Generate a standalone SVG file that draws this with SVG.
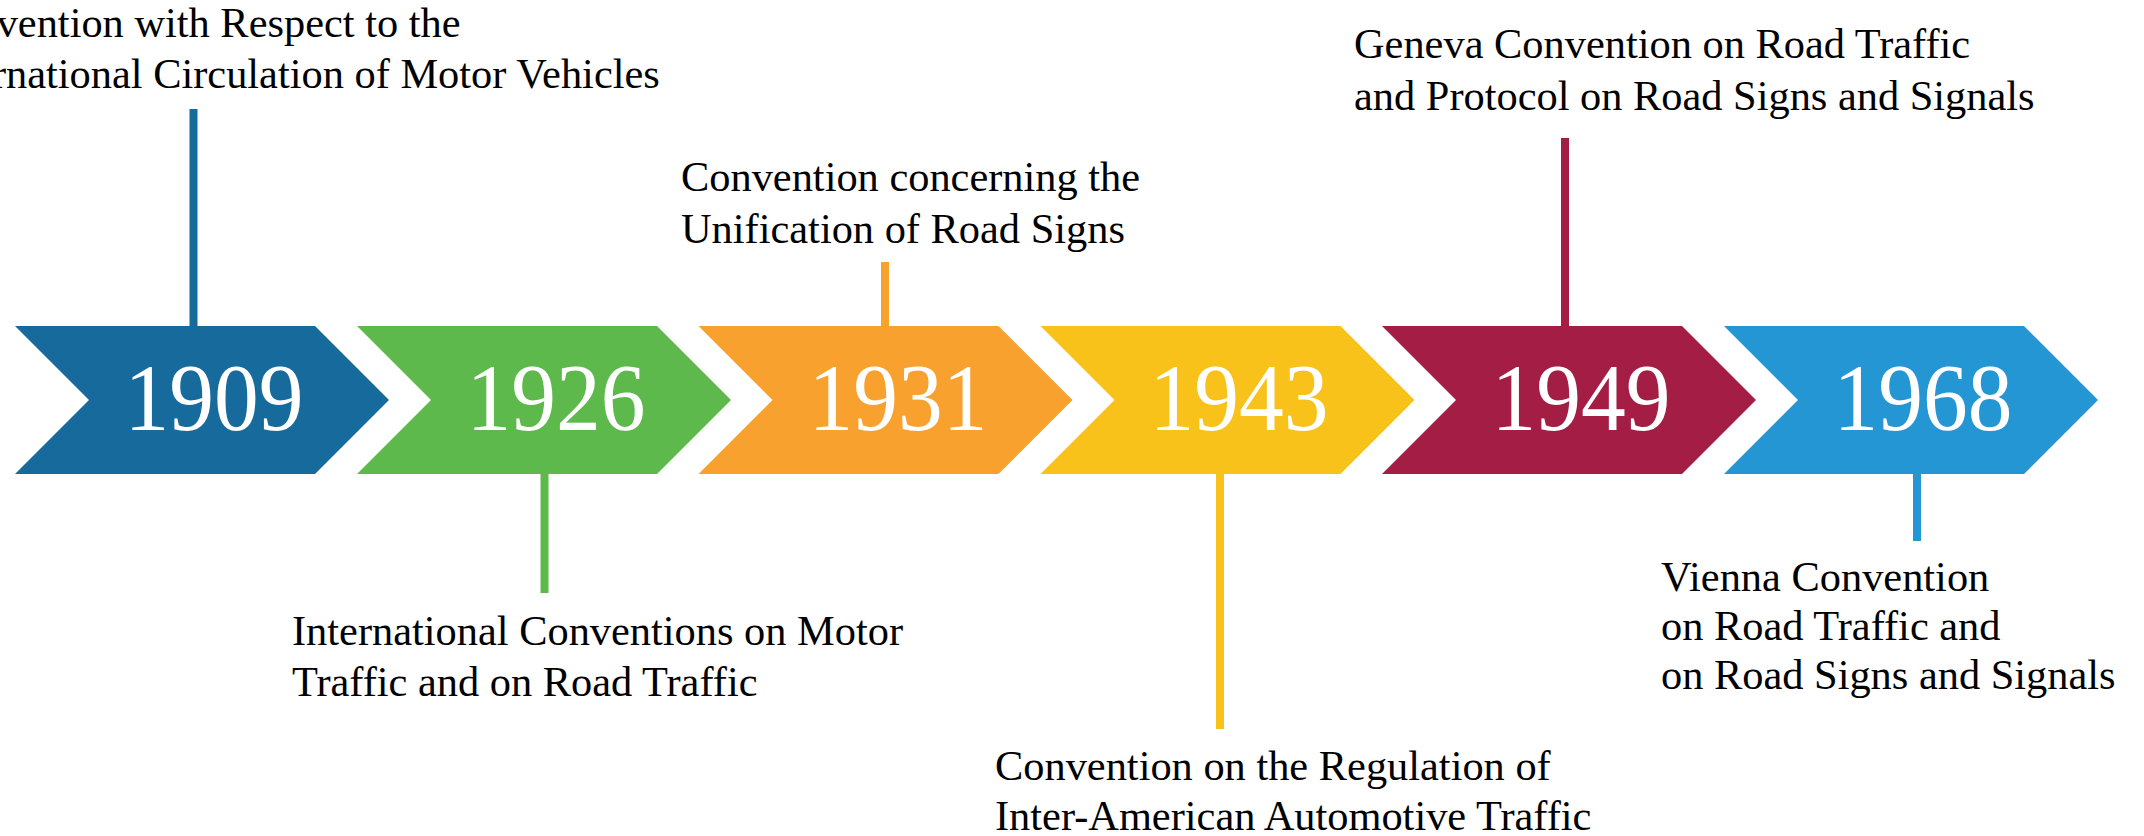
<svg xmlns="http://www.w3.org/2000/svg" width="2144" height="836" viewBox="0 0 2144 836">
<style>
.yr{font-family:"Liberation Serif","Times New Roman",serif;font-size:95px;fill:#fff;text-anchor:middle}
.lb{font-family:"Liberation Serif","Times New Roman",serif;font-size:42.4px;fill:#000}
</style>
<defs>
<polygon id="chev" points="0,0 300,0 374,74 300,148 0,148 74,74"/>
</defs>
<rect width="2144" height="836" fill="#fff"/>
<g id="connectors" stroke-width="8">
<line x1="193.5" y1="109" x2="193.5" y2="330" stroke="#176B9C"/>
<line x1="544.5" y1="470" x2="544.5" y2="593" stroke="#5DB94B"/>
<line x1="885" y1="262" x2="885" y2="330" stroke="#F9A12E"/>
<line x1="1220" y1="470" x2="1220" y2="729" stroke="#F9C21A"/>
<line x1="1565" y1="138" x2="1565" y2="330" stroke="#A31D45"/>
<line x1="1917" y1="470" x2="1917" y2="541" stroke="#2496D4"/>
</g>
<g id="n1909">
<use href="#chev" x="15" y="326" fill="#176B9C"/>
<text class="yr" x="214" y="430" textLength="179" lengthAdjust="spacingAndGlyphs">1909</text>
<text class="lb" x="-74" y="37">Convention with Respect to the</text>
<text class="lb" x="-74" y="88">International Circulation of Motor Vehicles</text>
</g>
<g id="n1926">
<use href="#chev" x="357" y="326" fill="#5DB94B"/>
<text class="yr" x="556" y="430" textLength="179" lengthAdjust="spacingAndGlyphs">1926</text>
<text class="lb" x="292" y="645">International Conventions on Motor</text>
<text class="lb" x="292" y="696">Traffic and on Road Traffic</text>
</g>
<g id="n1931">
<use href="#chev" x="698.5" y="326" fill="#F9A12E"/>
<text class="yr" x="898" y="430" textLength="179" lengthAdjust="spacingAndGlyphs">1931</text>
<text class="lb" x="681" y="191">Convention concerning the</text>
<text class="lb" x="681" y="243">Unification of Road Signs</text>
</g>
<g id="n1943">
<use href="#chev" x="1040.5" y="326" fill="#F9C21A"/>
<text class="yr" x="1239" y="430" textLength="179" lengthAdjust="spacingAndGlyphs">1943</text>
<text class="lb" x="995" y="780">Convention on the Regulation of</text>
<text class="lb" x="995" y="830">Inter-American Automotive Traffic</text>
</g>
<g id="n1949">
<use href="#chev" x="1382" y="326" fill="#A31D45"/>
<text class="yr" x="1581" y="430" textLength="179" lengthAdjust="spacingAndGlyphs">1949</text>
<text class="lb" x="1354" y="58">Geneva Convention on Road Traffic</text>
<text class="lb" x="1354" y="110">and Protocol on Road Signs and Signals</text>
</g>
<g id="n1968">
<use href="#chev" x="1724" y="326" fill="#2496D4"/>
<text class="yr" x="1923" y="430" textLength="179" lengthAdjust="spacingAndGlyphs">1968</text>
<text class="lb" x="1661" y="591">Vienna Convention</text>
<text class="lb" x="1661" y="640">on Road Traffic and</text>
<text class="lb" x="1661" y="689">on Road Signs and Signals</text>
</g>
</svg>
